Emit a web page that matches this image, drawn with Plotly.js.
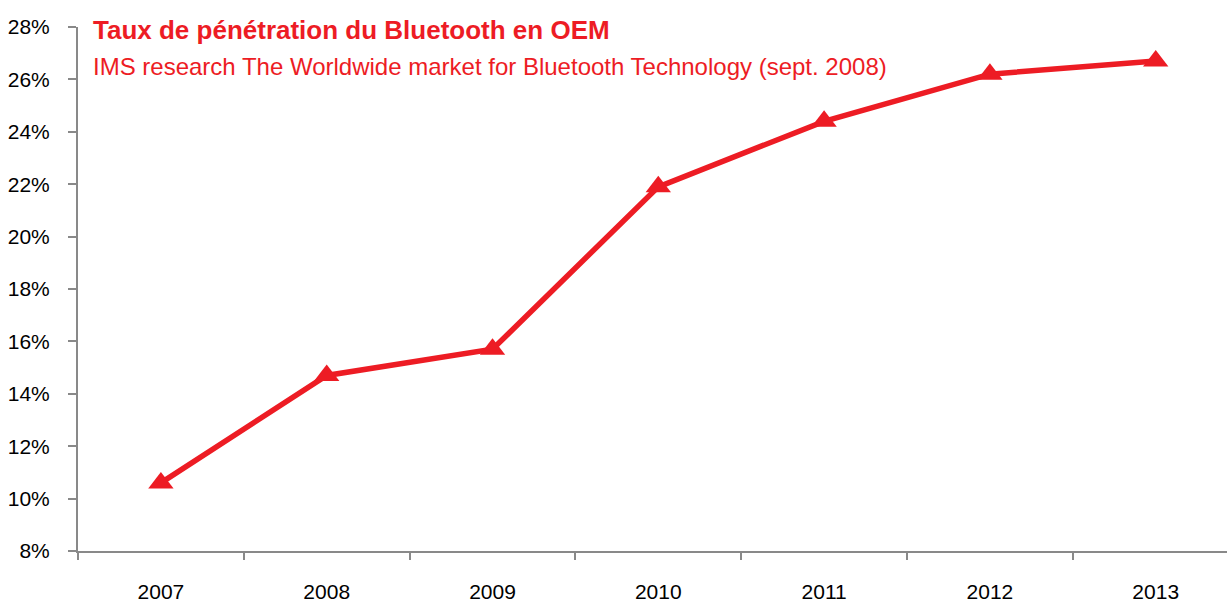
<!DOCTYPE html>
<html>
<head>
<meta charset="utf-8">
<script src="https://cdn.plot.ly/plotly-3.0.1.min.js"></script>
<style>
  html, body { margin: 0; padding: 0; background: #fff; }
  #chart { width: 1227px; height: 604px; }
</style>
</head>
<body>
<div id="chart"></div>
<script>
var years = ['2007', '2008', '2009', '2010', '2011', '2012', '2013'];
var penetration = [10.6, 14.7, 15.7, 21.9, 24.4, 26.2, 26.7];

var red = '#ED1C24';
var axisGrey = '#898989';
var font = 'Liberation Sans, Arial, sans-serif';

var trace = {
    x: years,
    y: penetration,
    mode: 'lines+markers',
    type: 'scatter',
    line: { color: red, width: 5.5 },
    marker: { symbol: 'triangle-up', size: 22, color: red },
    cliponaxis: false,
    hoverinfo: 'x+y'
};

var layout = {
    width: 1227,
    height: 604,
    margin: { l: 78, r: 0, t: 27, b: 53 },
    paper_bgcolor: '#fff',
    plot_bgcolor: '#fff',
    showlegend: false,
    font: { family: font, size: 21, color: '#000' },
    xaxis: {
        type: 'category',
        range: [-0.5, 6.43],
        showgrid: false,
        zeroline: false,
        showline: true,
        linecolor: axisGrey,
        linewidth: 2,
        ticks: 'outside',
        tickson: 'boundaries',
        ticklen: 7,
        tickwidth: 2,
        tickcolor: axisGrey,
        ticklabelstandoff: 21,
        tickfont: { family: font, size: 21, color: '#000' },
        fixedrange: true
    },
    yaxis: {
        range: [8, 28],
        dtick: 2,
        ticksuffix: '%',
        showgrid: false,
        zeroline: false,
        showline: true,
        linecolor: axisGrey,
        linewidth: 2,
        ticks: 'outside',
        ticklen: 8,
        tickwidth: 2,
        tickcolor: axisGrey,
        ticklabelstandoff: 14,
        tickfont: { family: font, size: 21, color: '#000' },
        fixedrange: true
    },
    annotations: [
        {
            xref: 'paper', yref: 'paper',
            x: 0.011, y: 0.994,
            xanchor: 'left', yanchor: 'middle',
            text: '<b>Taux de pénétration du Bluetooth en OEM</b>',
            showarrow: false,
            font: { family: font, size: 26, color: red }
        },
        {
            xref: 'paper', yref: 'paper',
            x: 0.011, y: 0.924,
            xanchor: 'left', yanchor: 'middle',
            text: 'IMS research The Worldwide market for Bluetooth Technology (sept. 2008)',
            showarrow: false,
            font: { family: font, size: 24, color: red }
        }
    ]
};

Plotly.newPlot('chart', [trace], layout, { displayModeBar: false, responsive: false });
</script>
</body>
</html>
